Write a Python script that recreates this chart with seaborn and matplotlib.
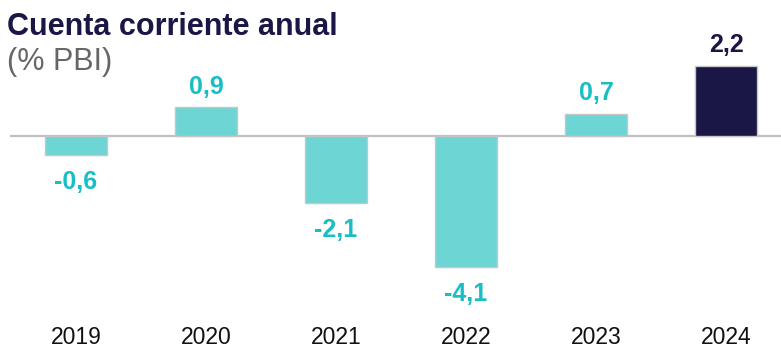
import matplotlib
matplotlib.use("Agg")
import matplotlib.pyplot as plt
import seaborn as sns
import pandas as pd

years = ["2019", "2020", "2021", "2022", "2023", "2024"]
values = [-0.6, 0.9, -2.1, -4.1, 0.7, 2.2]
bar_colors = ["#6dd5d4", "#6dd5d4", "#6dd5d4", "#6dd5d4", "#6dd5d4", "#1a1646"]
label_colors = ["#17bec3", "#17bec3", "#17bec3", "#17bec3", "#17bec3", "#1a1646"]
title = "Cuenta corriente anual"
subtitle = "(% PBI)"

sns.set_theme(style="white")
plt.rcParams["font.family"] = ["Liberation Sans", "DejaVu Sans"]

df = pd.DataFrame({"year": years, "value": values})

W, H = 781, 351
fig = plt.figure(figsize=(W / 100, H / 100), dpi=100)
ax = fig.add_axes([10 / W, 51 / H, 771 / W, 260 / H])

ax.axhline(0, color="#c0c0c0", lw=1.6, zorder=1)
sns.barplot(data=df, x="year", y="value", hue="year", palette=bar_colors,
            legend=False, width=0.48, edgecolor="#c6c6c6", linewidth=1.0,
            saturation=1, ax=ax, zorder=2)

ax.set_xlim(-0.508, 5.423)
ax.set_ylim(-5.125, 3.0)
for s in ax.spines.values():
    s.set_visible(False)
ax.set_yticks([])
ax.set_xlabel("")
ax.set_ylabel("")
ax.tick_params(axis="x", length=0, pad=19)
for lab in ax.get_xticklabels():
    lab.set_fontfamily(["Liberation Sans Narrow", "Liberation Sans"])
    lab.set_fontsize(16.5)
    lab.set_color("#111111")

for i, (v, c) in enumerate(zip(values, label_colors)):
    txt = f"{v:.1f}".replace(".", ",")
    if v >= 0:
        ax.annotate(txt, (i, v), xytext=(0, 6), textcoords="offset points",
                    ha="center", va="bottom", fontsize=18, fontweight="bold",
                    color=c)
    else:
        ax.annotate(txt, (i, v), xytext=(0, -11), textcoords="offset points",
                    ha="center", va="top", fontsize=18, fontweight="bold",
                    color=c)

fig.text(7 / W, 1 - 35 / H, title, fontsize=22, fontweight="bold",
         color="#1a1646", ha="left", va="baseline")
fig.text(7 / W, 1 - 70 / H, subtitle, fontsize=22, color="#666666",
         ha="left", va="baseline")

fig.savefig("out.png", dpi=100)
